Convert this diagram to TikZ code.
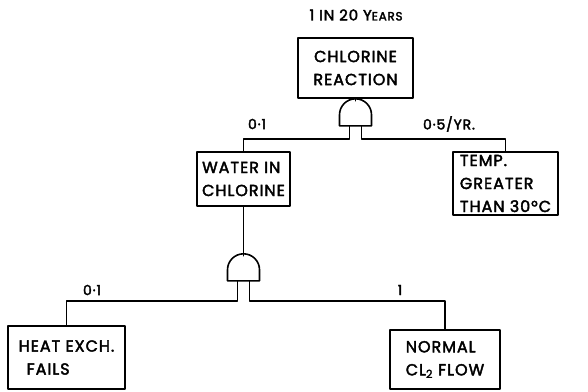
\documentclass[tikz,border=0pt]{standalone}
\usepackage{fontspec}
\setmainfont{Poppins}
\newfontfamily\hand{Poppins}[FakeBold=2.5, LetterSpace=6]
\usetikzlibrary{positioning}
\tikzset{
  event/.style={draw, line width=1.6pt, align=left, inner sep=4pt, font=\hand\fontsize{16}{23}\selectfont},
  prob/.style={font=\hand\fontsize{14}{16}\selectfont, inner sep=1pt},
  andgate/.pic={
    \draw[line width=1.6pt] (-16,25) -- (-16,14) arc[start angle=180, end angle=360, radius=16] -- (16,25) -- cycle;
    \coordinate (-top) at (0,0);
    \coordinate (-l) at (-6,25);
    \coordinate (-r) at (6,25);
  },
}
\begin{document}
\begin{tikzpicture}[x=1pt, y=-1pt, line width=1.6pt, line join=round, line cap=round]
  \useasboundingbox (0,0) rectangle (588,391);
  % events
  \node[event, minimum width=115pt, minimum height=60pt, align=center] (top) at (355.5,68) {CHLORINE\\REACTION};
  \node[font=\hand\fontsize{15}{17}\selectfont] (freq) at (356,15) {1 IN 20 Y{\fontsize{12}{14}\selectfont EARS}};
  \node[event, minimum width=93pt, minimum height=54pt, inner sep=3pt] (water) at (243.5,179) {WATER IN\\CHLORINE};
  \node[event, minimum width=105pt, minimum height=57pt, inner sep=3pt] (temp) at (505.5,183.5) {TEMP.\\GREATER\\THAN 30°C};
  \node[event, minimum width=117pt, minimum height=63pt] (heat) at (66.5,357.5) {HEAT EXCH.\\\hspace*{8pt}FAILS};
  \node[event, minimum width=110pt, minimum height=59pt] (flow) at (445,359.5) {NORMAL\\CL\textsubscript{2} FLOW};
  % gates
  \pic (g1) at ([yshift=-2pt]top.south) {andgate};
  \pic (g2) at ([yshift=-49pt]water.south) {andgate};
  \draw (top.south) -- (g1-top);
  \draw (water.south) -- (g2-top);
  \draw (g1-l) -- ++(0,13) -| (water.north);
  \draw (g1-r) -- ++(0,13) -| (temp.north);
  \draw (g2-l) -- ++(0,20) -| (heat.north);
  \draw (g2-r) -- ++(0,20) -| (flow.north);
  % probabilities
  \node[prob] (pw) at (257,124) {0·1};
  \node[prob] (pt) at (449,124) {0·5/YR.};
  \node[prob] (ph) at (92,290) {0·1};
  \node[prob] (pf) at (400,290) {1};
\end{tikzpicture}
\end{document}
